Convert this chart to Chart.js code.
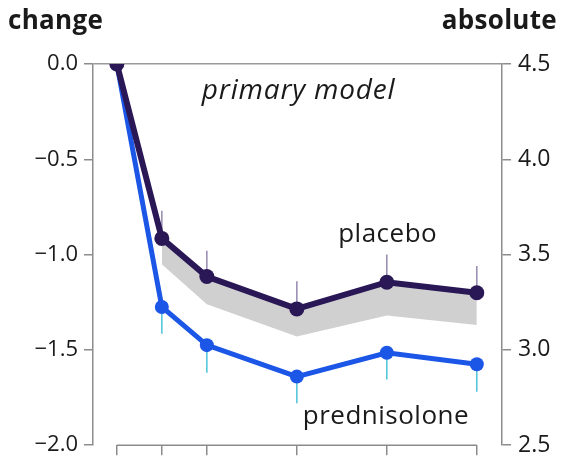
<!DOCTYPE html>
<html>
<head>
<meta charset="utf-8">
<script src="https://cdn.jsdelivr.net/npm/chart.js@4.4.1/dist/chart.umd.min.js"></script>
<style>
  html, body { margin: 0; padding: 0; background: #fff; }
  #wrap { width: 563px; height: 466px; }
</style>
</head>
<body>
<div id="wrap"><canvas id="prednisoloneChart"></canvas></div>
<script>
// weeks of follow-up (x positions of the visits)
const weeks = [0, 1, 2, 4, 6, 8];

// change from baseline, primary model
const placebo      = [0, -0.915, -1.115, -1.285, -1.145, -1.2];
const prednisolone = [0, -1.275, -1.475, -1.64, -1.515, -1.575];

// one-sided error bars
const placeboUpper     = [null, -0.77, -0.98, -1.14, -1.0, -1.06];
const prednisoloneLower = [null, -1.415, -1.62, -1.78, -1.655, -1.72];

// grey band below the placebo line (starts at week 1)
const bandWeeks = [1, 2, 4, 6, 8];
const bandLower = [-1.05, -1.26, -1.43, -1.32, -1.37];

// axis ticks
const changeTicks   = [0, -0.5, -1.0, -1.5, -2.0];
const absoluteTicks = [4.5, 4.0, 3.5, 3.0, 2.5];

const FONT = '"Open Sans", "DejaVu Sans", sans-serif';
const AXIS = '#8c8c8c';

const pts = (xs, ys) => xs.map((x, i) => ({ x: x, y: ys[i] }));
const minus = v => (v < 0 ? '\u2212' : '') + Math.abs(v).toFixed(1);

// error bars behind the lines
const errorBars = {
    id: 'errorBars',
    beforeDatasetsDraw(chart) {
        const c = chart.ctx, sx = chart.scales.x, sy = chart.scales.y;
        c.save();
        c.lineWidth = 1.6;
        weeks.forEach((w, i) => {
            if (placeboUpper[i] !== null) {
                c.strokeStyle = '#9b90b4';
                c.beginPath();
                c.moveTo(sx.getPixelForValue(w), sy.getPixelForValue(placebo[i]));
                c.lineTo(sx.getPixelForValue(w), sy.getPixelForValue(placeboUpper[i]));
                c.stroke();
            }
            if (prednisoloneLower[i] !== null) {
                c.strokeStyle = '#55c6dc';
                c.beginPath();
                c.moveTo(sx.getPixelForValue(w), sy.getPixelForValue(prednisolone[i]));
                c.lineTo(sx.getPixelForValue(w), sy.getPixelForValue(prednisoloneLower[i]));
                c.stroke();
            }
        });
        c.restore();
    }
};

// x baseline only between first and last visit, plus text labels
const decorations = {
    id: 'decorations',
    afterDraw(chart) {
        const c = chart.ctx, sx = chart.scales.x, sy = chart.scales.y;
        const bottom = chart.chartArea.bottom;
        c.save();
        c.strokeStyle = AXIS;
        c.lineWidth = 1.5;
        c.beginPath();
        c.moveTo(sx.getPixelForValue(weeks[0]), bottom);
        c.lineTo(sx.getPixelForValue(weeks[weeks.length - 1]), bottom);
        c.stroke();

        c.fillStyle = '#1a1a1a';
        c.textBaseline = 'middle';
        c.font = 'bold 26px ' + FONT;
        c.letterSpacing = '0.3px';
        c.textAlign = 'left';
        c.fillText('change', 8, 22);
        c.textAlign = 'right';
        c.fillText('absolute', 557, 22);

        c.textAlign = 'center';
        c.letterSpacing = '0.8px';
        c.font = 'italic 28px ' + FONT;
        c.fillText('primary model', sx.getPixelForValue(4.04), sy.getPixelForValue(-0.14));
        c.letterSpacing = '0.5px';
        c.font = '26px ' + FONT;
        c.fillText('placebo', sx.getPixelForValue(6.02), sy.getPixelForValue(-0.894));
        c.fillText('prednisolone', sx.getPixelForValue(5.98), sy.getPixelForValue(-1.85));
        c.restore();
    }
};

new Chart(document.getElementById('prednisoloneChart'), {
    type: 'line',
    data: {
        datasets: [
            {
                label: 'band',
                data: pts(bandWeeks, bandLower),
                borderWidth: 0,
                pointRadius: 0,
                backgroundColor: '#d0d0d0',
                fill: 1,
                order: 3
            },
            {
                label: 'bandTop',
                data: pts(bandWeeks, placebo.slice(1)),
                borderWidth: 0,
                pointRadius: 0,
                fill: false,
                order: 2
            },
            {
                label: 'prednisolone',
                data: pts(weeks, prednisolone),
                borderColor: '#1c56e6',
                backgroundColor: '#1c56e6',
                borderWidth: 5,
                pointRadius: 7,
                pointBorderWidth: 0,
                fill: false,
                order: 1
            },
            {
                label: 'placebo',
                data: pts(weeks, placebo),
                borderColor: '#2a1756',
                backgroundColor: '#2a1756',
                borderWidth: 6,
                pointRadius: 7.5,
                pointBorderWidth: 0,
                fill: false,
                order: 0
            }
        ]
    },
    options: {
        responsive: true,
        maintainAspectRatio: false,
        animation: false,
        layout: { padding: { top: 64, left: 0, right: 0, bottom: 0 } },
        plugins: {
            legend: { display: false },
            tooltip: { enabled: false }
        },
        scales: {
            x: {
                type: 'linear',
                min: -0.53,
                max: 8.56,
                border: { display: false },
                grid: { drawOnChartArea: false, color: AXIS, lineWidth: 1.5, tickLength: 10 },
                ticks: { display: false },
                afterBuildTicks: s => { s.ticks = weeks.map(v => ({ value: v })); },
                afterFit: s => { s.height = 15; }
            },
            y: {
                position: 'left',
                min: -2,
                max: 0,
                border: { color: AXIS, width: 1.5 },
                grid: {
                    color: ctx => (ctx.tick && ctx.tick.value === 0 ? '#9a9a9a' : 'rgba(0,0,0,0)'),
                    tickColor: AXIS,
                    lineWidth: 1.5,
                    tickLength: 9
                },
                ticks: {
                    stepSize: 0.5,
                    padding: 6,
                    color: '#1a1a1a',
                    font: { family: FONT, size: 22 },
                    callback: v => minus(v)
                },
                afterBuildTicks: s => { s.ticks = changeTicks.map(v => ({ value: v })); },
                afterFit: s => { s.width = 93; }
            },
            y2: {
                position: 'right',
                min: 2.5,
                max: 4.5,
                border: { color: AXIS, width: 1.5 },
                grid: { drawOnChartArea: false, color: AXIS, lineWidth: 1.5, tickLength: 9 },
                ticks: {
                    stepSize: 0.5,
                    padding: 7,
                    color: '#1a1a1a',
                    font: { family: FONT, size: 23 },
                    callback: v => v.toFixed(1)
                },
                afterBuildTicks: s => { s.ticks = absoluteTicks.map(v => ({ value: v })); },
                afterFit: s => { s.width = 61; }
            }
        }
    },
    plugins: [errorBars, decorations]
});
</script>
</body>
</html>
